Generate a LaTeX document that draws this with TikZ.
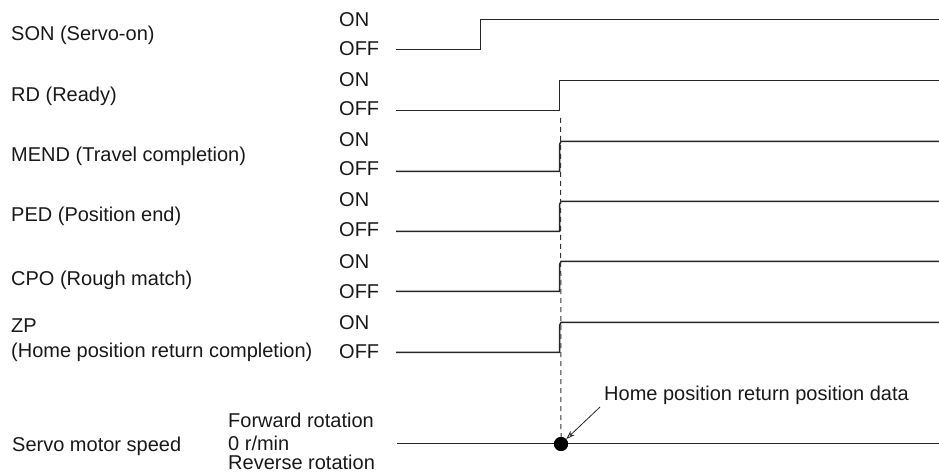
\documentclass[tikz,border=0pt]{standalone}
\usepackage{fontspec}
\setmainfont{Liberation Sans}
\usetikzlibrary{arrows.meta}
\begin{document}
\begin{tikzpicture}[x=1bp,y=-1bp,
  lbl/.style={anchor=base west,inner sep=0pt,font=\fontsize{20bp}{24bp}\selectfont,text=black!90},
  sig/.style={draw=black!85,line width=1.5bp},
  guide/.style={draw=black!80,line width=1bp,dash pattern=on 5bp off 4bp},
  dotnode/.style={circle,fill=black,inner sep=0pt,minimum size=14bp},
  pointer/.style={draw=black!85,line width=0.8bp,-{Stealth[open,length=9bp,width=6bp]}}]
\useasboundingbox (0,0) rectangle (939,472);
% left labels
\node[lbl] (lson) at (11,41) {SON (Servo-on)};
\node[lbl] (lrd) at (11,102) {RD (Ready)};
\node[lbl] (lmend) at (11,162) {MEND (Travel completion)};
\node[lbl] (lped) at (11,222) {PED (Position end)};
\node[lbl] (lcpo) at (11,286) {CPO (Rough match)};
\node[lbl] (lzp) at (11,333) {ZP};
\node[lbl] (lzp2) at (11,358) {(Home position return completion)};
\node[lbl] (lspd) at (12,451) {Servo motor speed};
% ON / OFF labels
\foreach \n/\on/\off in {a/27/56, b/87/116, c/147/176, d/207/237, e/269/299, f/330/359}{
  \node[lbl] (on\n) at (339,\on) {ON};
  \node[lbl] (off\n) at (339,\off) {OFF};
}
\node[lbl] (fwd) at (228,427) {Forward rotation};
\node[lbl] (zero) at (228,450) {0 r/min};
\node[lbl] (rev) at (228,469) {Reverse rotation};
% signal coordinates
\coordinate (sonL) at (396,49.5);  \coordinate (sonR) at (939,19.5);
\coordinate (rdL) at (396,110.5);  \coordinate (rdR) at (939,80.5);
% SON
\draw[sig] (sonL) -- (480.5,49.5) -- (480.5,19.5) -- (sonR);
% RD
\draw[sig] (rdL) -- (559.5,110.5) -- (559.5,80.5) -- (rdR);
% MEND, PED, CPO, ZP
\foreach \nm/\hi/\lo in {mend/141.5/171.5, ped/201.5/231.5, cpo/261.5/291.5, zp/322.5/352.5}{
  \coordinate (\nm L) at (396,\lo);
  \coordinate (\nm R) at (939,\hi);
  \draw[sig] (\nm L) -- (559.5,\lo) -- (559.5,\hi+3) -- (561,\hi) -- (\nm R);
}
% speed
\node[dotnode] (dot) at (561,444) {};
\coordinate (spdL) at (397,443.5);
\coordinate (spdR) at (939,443.5);
\draw[sig] (spdL) -- (spdR);
\node[dotnode] at (dot) {};
% guide
\coordinate (gtop) at (560.5,118);
\draw[guide] (gtop) -- (dot.north);
% annotation
\node[lbl] (hp) at (604,400) {Home position return position data};
\coordinate (arrS) at (600,407);
\draw[pointer] (arrS) -- (dot);
\end{tikzpicture}
\end{document}
